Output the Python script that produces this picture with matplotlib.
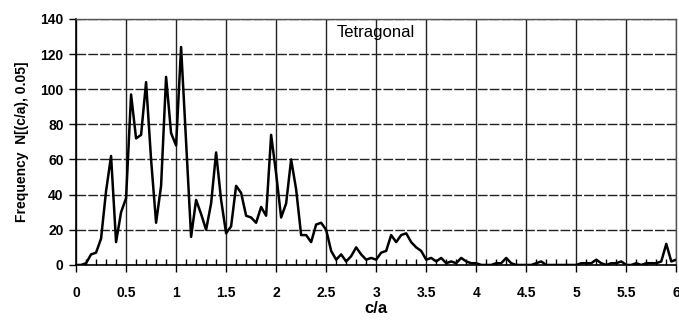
import numpy as np
import matplotlib
matplotlib.use("Agg")
from matplotlib import pyplot as plt
from matplotlib.ticker import MultipleLocator

plt.rcParams["font.family"] = ["Liberation Sans", "DejaVu Sans"]

# Histogram of c/a, bin width 0.05
ca = np.round(np.arange(0, 6.0001, 0.05), 2)
freq = [
    0, 0, 1, 6, 7, 15, 42, 62, 13, 30,
    38, 97, 72, 74, 104, 60, 24, 45, 107, 75,
    68, 124, 70, 16, 37, 29, 20, 35, 64, 37,
    18, 22, 45, 41, 28, 27, 24, 33, 28, 74,
    52, 27, 35, 60, 43, 17, 17, 13, 23, 24,
    20, 8, 3, 6, 2, 5, 10, 6, 3, 4,
    3, 7, 8, 17, 13, 17, 18, 13, 10, 8,
    3, 4, 2, 4, 1, 2, 1, 4, 2, 1,
    1, 0, 0, 0, 1, 1, 4, 1, 0, 0,
    0, 0, 1, 2, 0, 0, 0, 0, 0, 0,
    0, 1, 1, 1, 3, 1, 0, 1, 1, 2,
    0, 0, 1, 0, 1, 1, 1, 2, 12, 2,
    3,
]
x_ticks = np.arange(0, 6.01, 0.5)
x_labels = ["0", "0.5", "1", "1.5", "2", "2.5", "3", "3.5", "4", "4.5", "5", "5.5", "6"]
y_ticks = np.arange(0, 141, 20)

fig = plt.figure(figsize=(6.79, 3.2), dpi=100)
ax = fig.add_axes([0.112, 0.172, 0.884, 0.769])

ax.plot(ca, freq, color="black", lw=1.8, zorder=3)

ax.set_xlim(0, 6)
ax.set_ylim(0, 140)
ax.set_xticks(x_ticks)
ax.set_xticklabels(x_labels, fontweight="bold", fontsize=10)
ax.set_yticks(y_ticks)
ax.set_yticklabels([str(v) for v in y_ticks], fontweight="bold", fontsize=10)
ax.xaxis.set_minor_locator(MultipleLocator(0.1))

ax.tick_params(axis="x", which="major", direction="out", length=5, width=1, pad=10)
ax.tick_params(axis="x", which="minor", direction="in", length=4, width=1)
ax.tick_params(axis="y", which="major", direction="out", length=5, width=1, pad=4)

ax.grid(axis="x", which="major", color="#222222", lw=1.0, zorder=1)
ax.grid(axis="y", which="major", color="#222222", lw=1.0, ls=(0, (7, 1.5)), zorder=1)

for s in ["left", "bottom"]:
    ax.spines[s].set_color("black")
    ax.spines[s].set_linewidth(1.2)
for s in ["top", "right"]:
    ax.spines[s].set_color("#555555")
    ax.spines[s].set_linewidth(1.0)

ax.set_xlabel("c/a", fontweight="bold", fontsize=12, labelpad=1)
ax.set_ylabel("Frequency  N[(c/a), 0.05]", fontweight="bold", fontsize=10, labelpad=8)

ax.text(3.0, 132, "Tetragonal", ha="center", va="center", fontsize=12)

fig.savefig("out.png", dpi=100)
